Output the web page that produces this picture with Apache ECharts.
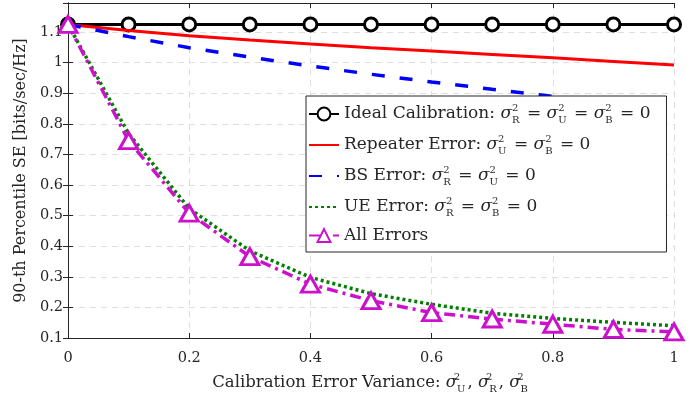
<!DOCTYPE html>
<html><head><meta charset="utf-8">
<script src="https://cdn.jsdelivr.net/npm/echarts@6/dist/echarts.min.js"></script>
<style>html,body{margin:0;padding:0;background:#fff}#c{width:697px;height:399px}</style>
</head><body><div id="c"></div>
<script>
const xVals = [0, 0.1, 0.2, 0.3, 0.4, 0.5, 0.6, 0.7, 0.8, 0.9, 1.0];
const ideal = [1.125, 1.125, 1.125, 1.125, 1.125, 1.125, 1.125, 1.125, 1.125, 1.125, 1.125];
const repeaterErr = [1.125, 1.105, 1.088, 1.074, 1.061, 1.049, 1.038, 1.027, 1.016, 1.004, 0.992];
const bsErr = [1.125, 1.085, 1.049, 1.018, 0.989, 0.962, 0.937, 0.913, 0.89, 0.865, 0.84];
const ueErr = [1.125, 0.768, 0.523, 0.385, 0.298, 0.245, 0.21, 0.181, 0.164, 0.151, 0.14];
const allErr = [1.125, 0.745, 0.508, 0.366, 0.276, 0.222, 0.183, 0.162, 0.145, 0.128, 0.12];
const xTicks = [0, 0.2, 0.4, 0.6, 0.8, 1];
const yTicks = [0.1, 0.2, 0.3, 0.4, 0.5, 0.6, 0.7, 0.8, 0.9, 1, 1.1];
const names = ['Ideal Calibration', 'Repeater Error', 'BS Error', 'UE Error', 'All Errors'];

const FONT = 'DejaVu Serif';
const TXT = '#262626';
function sig(s){ return '{sg|σ}{sp|2}{sb|' + s + '}'; }
const legendText = {
  'Ideal Calibration': '{t|Ideal Calibration: }' + sig('R') + '{t| = }' + sig('U') + '{t| = }' + sig('B') + '{t| = 0}',
  'Repeater Error': '{t|Repeater Error: }' + sig('U') + '{t| = }' + sig('B') + '{t| = 0}',
  'BS Error': '{t|BS Error: }' + sig('R') + '{t| = }' + sig('U') + '{t| = 0}',
  'UE Error': '{t|UE Error: }' + sig('R') + '{t| = }' + sig('B') + '{t| = 0}',
  'All Errors': '{t|All Errors}'
};
function rich(fs){
  return {
    t: {fontFamily: FONT, fontSize: fs, color: TXT, lineHeight: 22},
    sg: {fontFamily: FONT, fontSize: fs, fontStyle: 'italic', color: TXT, lineHeight: 22},
    sp: {fontFamily: FONT, fontSize: 10, color: TXT, lineHeight: 10, verticalAlign: 'top', width: 0},
    sb: {fontFamily: FONT, fontSize: 10, color: TXT, lineHeight: 10, verticalAlign: 'bottom', padding: [0, 2, 0, 0]}
  };
}

const chart = echarts.init(document.getElementById('c'));
const pair = a => a.map((v, i) => [xVals[i], v]);
const axisCommon = {
  axisLine: {show: true, lineStyle: {color: TXT, width: 1}},
  axisTick: {show: true, inside: true, length: 5, lineStyle: {color: TXT}},
};
const hideSym = {itemStyle: {opacity: 0}};
chart.setOption({
  animation: false,
  backgroundColor: '#fff',
  grid: {left: 68, right: 23, top: 3, bottom: 55},
  xAxis: [
    Object.assign({
      type: 'value', min: 0, max: 1, interval: 0.2,
      axisLabel: {fontFamily: FONT, fontSize: 14.5, color: TXT, margin: 13,
        formatter: v => { const r = Math.round(v * 10) / 10; return xTicks.indexOf(r) >= 0 ? String(r) : ''; }},
      splitLine: {show: true, lineStyle: {color: '#dedede', type: [6, 5], width: 1}},
      nameLocation: 'middle', nameGap: 34,
      nameTextStyle: {rich: rich(16.5)},
      name: '{t|Calibration Error Variance: }' + sig('U') + '{t|, }' + sig('R') + '{t|, }' + sig('B')
    }, axisCommon),
    Object.assign({
      type: 'value', min: 0, max: 1, interval: 0.2, position: 'top',
      axisLabel: {show: false}, splitLine: {show: false}
    }, axisCommon)
  ],
  yAxis: [
    Object.assign({
      type: 'value', min: 0.1, max: 1.195, interval: 0.1,
      axisLabel: {fontFamily: FONT, fontSize: 14.5, color: TXT, margin: 5,
        formatter: v => { const r = Math.round(v * 10) / 10; return (Math.abs(v - r) < 1e-6 && yTicks.indexOf(r) >= 0) ? String(r) : ''; }},
      splitLine: {show: true, lineStyle: {color: '#dedede', type: [6, 5], width: 1}},
      name: '90-th Percentile SE [bits/sec/Hz]',
      nameLocation: 'middle', nameGap: 36,
      nameTextStyle: {fontFamily: FONT, fontSize: 16, color: TXT}
    }, axisCommon),
    Object.assign({
      type: 'value', min: 0.1, max: 1.195, interval: 0.1, position: 'right',
      axisLabel: {show: false}, splitLine: {show: false}
    }, axisCommon)
  ],
  legend: {
    orient: 'vertical', left: 306, top: 96, z: 20,
    backgroundColor: '#fff', borderColor: TXT, borderWidth: 1, borderRadius: 0,
    padding: [7, 16, 8, 2],
    itemWidth: 30, itemHeight: 16, itemGap: 9,
    data: [
      {name: names[0]},
      Object.assign({name: names[1]}, hideSym),
      Object.assign({name: names[2]}, hideSym),
      Object.assign({name: names[3]}, hideSym),
      {name: names[4]}
    ],
    formatter: n => legendText[n],
    textStyle: {rich: rich(17)}
  },
  series: [
    {name: names[0], type: 'line', data: pair(ideal), symbol: 'circle', symbolSize: 13,
      itemStyle: {color: '#fff', borderColor: '#000', borderWidth: 3},
      lineStyle: {color: '#000', width: 3}, z: 2},
    {name: names[1], type: 'line', data: pair(repeaterErr), symbol: 'none',
      itemStyle: {color: '#ff0000'}, lineStyle: {color: '#ff0000', width: 3}, z: 3},
    {name: names[2], type: 'line', data: pair(bsErr), symbol: 'none',
      itemStyle: {color: '#0000ff'}, lineStyle: {color: '#0000ff', width: 3.5, type: [13, 15]}, z: 4},
    {name: names[3], type: 'line', data: pair(ueErr), symbol: 'none',
      itemStyle: {color: '#008000'}, lineStyle: {color: '#008000', width: 3.5, type: [3, 3]}, z: 5},
    {name: names[4], type: 'line', data: pair(allErr), symbol: 'triangle', symbolSize: [18, 16],
      itemStyle: {color: '#fff', borderColor: '#cc11cc', borderWidth: 3},
      lineStyle: {color: '#cc11cc', width: 3.5, type: [11, 5, 3, 5]}, z: 6}
  ]
});
</script></body></html>
